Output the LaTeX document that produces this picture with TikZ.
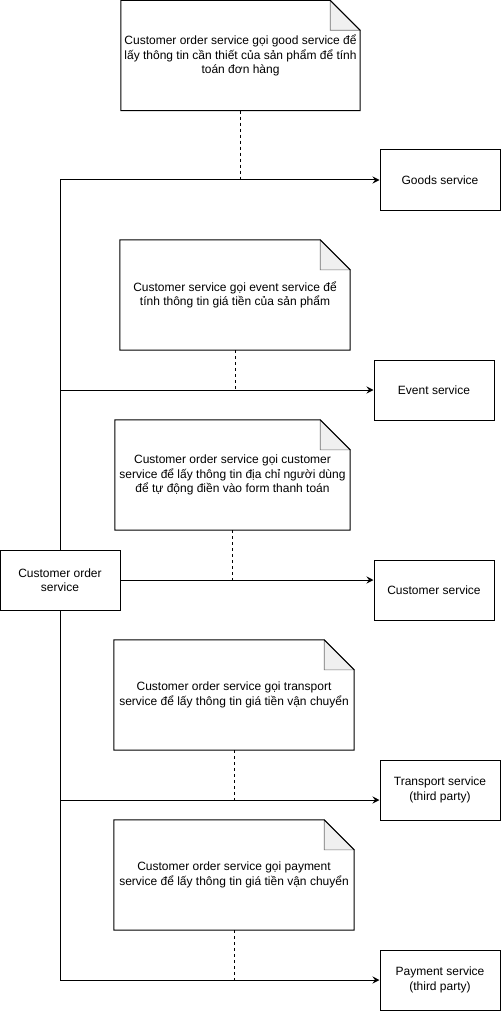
\documentclass[tikz,border=0pt]{standalone}
\usepackage{fontspec}
\setmainfont{Liberation Sans}
\usetikzlibrary{arrows.meta,calc}
\definecolor{foldgray}{HTML}{F0F0F0}
\tikzset{
  svc/.style={draw, line width=1pt, fill=white, minimum width=120pt, minimum height=60pt,
    inner sep=0pt, align=center, font=\fontsize{12}{14.4}\selectfont},
  notebox/.style={minimum height=110pt, inner sep=0pt, align=center,
    font=\fontsize{12}{14.4}\selectfont},
  noteline/.style={draw, line width=1pt, line join=miter},
  notefold/.style={fill=foldgray, draw=black!55, line width=0.6pt},
  call/.style={draw, line width=1pt, -{Stealth[length=7pt,width=7pt,inset=2.5pt]}},
  link/.style={draw, line width=1pt, dash pattern=on 3pt off 3pt},
}
% dog-eared outline around a note node
\newcommand\dogear[1]{%
  \path[notefold] ([xshift=-30pt]#1.north east) -- ([xshift=-30pt,yshift=-30pt]#1.north east)
    -- ([yshift=-30pt]#1.north east) -- cycle;
  \path[noteline] (#1.south west) -- (#1.north west) -- ([xshift=-30pt]#1.north east)
    -- ([yshift=-30pt]#1.north east) -- (#1.south east) -- cycle;
}
\begin{document}
\begin{tikzpicture}[x=1pt,y=-1pt]
\useasboundingbox[fill=white] (0,0) rectangle (501,1011);

% services
\node[svc] (co)        at (60,580)  {Customer order\\service};
\node[svc] (goods)     at (440,180) {Goods service};
\node[svc] (event)     at (434,390) {Event service};
\node[svc] (cust)      at (434,590) {Customer service};
\node[svc] (transport) at (440,790) {Transport service\\(third party)};
\node[svc] (payment)   at (440,980) {Payment service\\(third party)};

% notes
\node[notebox, minimum width=239pt] (n1) at (240.5,55.5)
  {Customer order service gọi good service để\\lấy thông tin cần thiết của sản phẩm để tính\\toán đơn hàng};
\node[notebox, minimum width=230pt] (n2) at (235,295)
  {Customer service gọi event service để\\tính thông tin giá tiền của sản phẩm};
\node[notebox, minimum width=235pt] (n3) at (232.5,475)
  {Customer order service gọi customer\\service để lấy thông tin địa chỉ người dùng\\để tự động điền vào form thanh toán};
\node[notebox, minimum width=240pt] (n4) at (234,695)
  {Customer order service gọi transport\\service để lấy thông tin giá tiền vận chuyển};
\node[notebox, minimum width=240pt] (n5) at (234,875)
  {Customer order service gọi payment\\service để lấy thông tin giá tiền vận chuyển};
\dogear{n1}\dogear{n2}\dogear{n3}\dogear{n4}\dogear{n5}

% entry points on the service boxes
\coordinate (custin) at (co.east -| cust.west);
\coordinate (tpin)   at ([yshift=-10pt]transport.west);

% calls
\path[call] (co.north) |- (goods.west);
\path[call] (co.north) |- (event.west);
\path[call] (co.east) -- (custin);
\path[call] (co.south) |- (tpin);
\path[call] (co.south) |- (payment.west);

% notes attached to calls
\path[link] (n1.south) -- (n1.south |- goods.west);
\path[link] (n2.south) -- (n2.south |- event.west);
\path[link] (n3.south) -- (n3.south |- custin);
\path[link] (n4.south) -- (n4.south |- tpin);
\path[link] (n5.south) -- (n5.south |- payment.west);
\end{tikzpicture}
\end{document}
